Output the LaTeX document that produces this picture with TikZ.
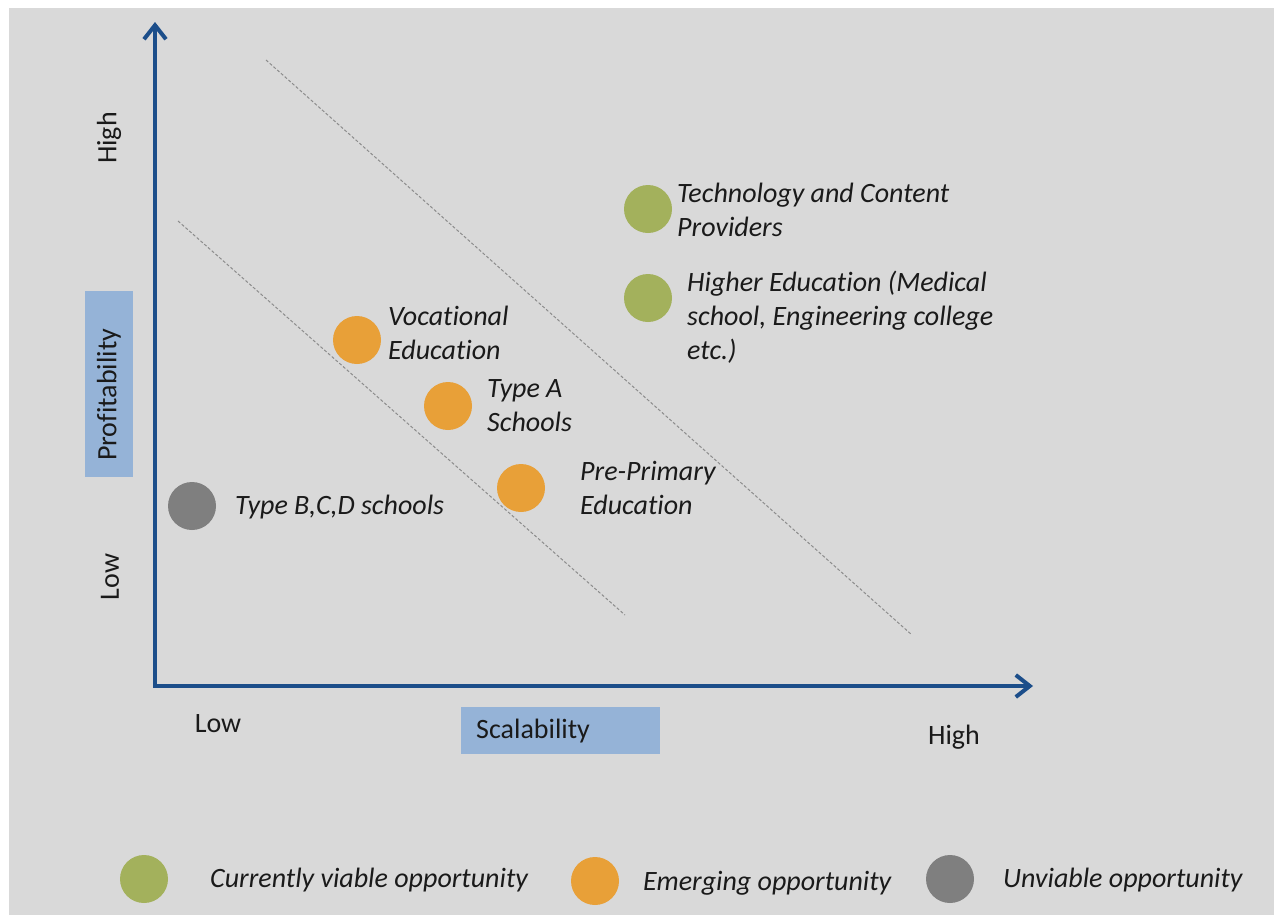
\documentclass[tikz,border=0pt]{standalone}
\usepackage{fontspec}
\setmainfont{Carlito}[Ligatures={NoCommon}]
\usetikzlibrary{arrows.meta}
\definecolor{bggray}{HTML}{D9D9D9}
\definecolor{axisblue}{HTML}{1C4E8A}
\definecolor{boxblue}{HTML}{95B3D7}
\definecolor{viable}{HTML}{A3B15C}
\definecolor{emerging}{HTML}{E8A038}
\definecolor{unviable}{HTML}{7F7F7F}
\definecolor{txt}{HTML}{1A1A1A}
\definecolor{dashgray}{HTML}{8C8C8C}
\tikzset{
  dot/.style={circle, minimum size=48pt, inner sep=0pt, draw=none},
  lbl/.style={anchor=west, inner sep=0pt, align=left, text=txt, font=\fontsize{28}{34}\selectfont\itshape},
  axlbl/.style={inner sep=0pt, text=txt, font=\fontsize{28}{34}\selectfont},
  axbox/.style={fill=boxblue, inner sep=0pt, draw=none},
  guide/.style={draw=dashgray, line width=1pt, dash pattern=on 3pt off 2pt},
  axis/.style={draw=axisblue, line width=4pt, line join=miter,
    {Straight Barb[length=14pt,width=22pt]}-{Straight Barb[length=14pt,width=22pt]}}
}
\begin{document}
\begin{tikzpicture}[x=1pt, y=-1pt]
\useasboundingbox (0,0) rectangle (1276,918);
\fill[white] (0,0) rectangle (1276,918);
\fill[bggray] (9,8) rectangle (1274,915);

% guide lines
\coordinate (g1a) at (266,60);
\coordinate (g1b) at (912,635);
\coordinate (g2a) at (178,221);
\coordinate (g2b) at (625,615);
\draw[guide] (g1a) -- (g1b);
\draw[guide] (g2a) -- (g2b);

% axes
\coordinate (O) at (155,686);
\coordinate (ytip) at (155,22);
\coordinate (xtip) at (1033,686);
\draw[axis] (ytip) -- (O) -- (xtip);

% axis labels
\node[axlbl, rotate=90] (yhigh) at (109,138) {High};
\node[axlbl, rotate=90] (ylow) at (110,577) {Low};
\node[axbox, minimum width=48pt, minimum height=186pt] (profbox) at (109,384) {};
\node[axlbl, rotate=90, anchor=west] (proftxt) at (109,461) {Profitability};
\node[axlbl] (xlow) at (218,724) {Low};
\node[axlbl] (xhigh) at (954,737) {High};
\node[axbox, minimum width=199pt, minimum height=47pt] (scalbox) at (560.5,730.5) {};
\node[axlbl, anchor=west] (scaltxt) at (476,731) {Scalability};

% data points
\node[dot, fill=viable] (tech) at (648,209) {};
\node[lbl] (techL) at (677,210) {Technology and Content\\Providers};
\node[dot, fill=viable] (higher) at (648,298) {};
\node[lbl] (higherL) at (687,317) {Higher Education (Medical\\school, Engineering college\\etc.)};
\node[dot, fill=emerging] (voc) at (357,340) {};
\node[lbl] (vocL) at (388,333) {Vocational\\Education};
\node[dot, fill=emerging] (typea) at (448,406) {};
\node[lbl] (typeaL) at (487,406) {Type A\\Schools};
\node[dot, fill=emerging] (prep) at (521,488) {};
\node[lbl] (prepL) at (580,488) {Pre-Primary\\Education};
\node[dot, fill=unviable] (bcd) at (192,506) {};
\node[lbl] (bcdL) at (235,507) {Type B,C,D schools};

% legend
\node[dot, fill=viable] (leg1) at (144,879) {};
\node[lbl] (leg1L) at (210,880) {Currently viable opportunity};
\node[dot, fill=emerging] (leg2) at (595,881) {};
\node[lbl] (leg2L) at (643,883) {Emerging opportunity};
\node[dot, fill=unviable] (leg3) at (950,879) {};
\node[lbl] (leg3L) at (1003,880) {Unviable opportunity};
\end{tikzpicture}
\end{document}
